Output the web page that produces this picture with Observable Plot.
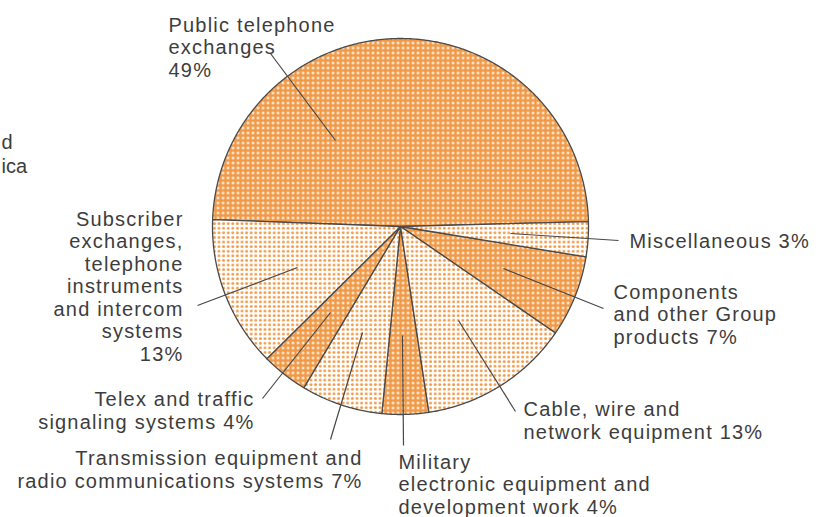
<!DOCTYPE html>
<html>
<head>
<meta charset="utf-8">
<script src="https://cdn.jsdelivr.net/npm/d3@7"></script>
<script src="https://cdn.jsdelivr.net/npm/@observablehq/plot@0.6"></script>
<style>
  html, body { margin: 0; padding: 0; background: #fff; }
  #chart svg { display: block; }
</style>
</head>
<body>
<svg width="0" height="0" style="position:absolute">
  <defs>
    <pattern id="dense" width="5" height="5" patternUnits="userSpaceOnUse">
      <rect width="5" height="5" fill="#f09a48"/>
      <circle cx="2.5" cy="2.5" r="1.25" fill="#ffffff"/>
    </pattern>
    <pattern id="light" width="4.6" height="4.6" patternUnits="userSpaceOnUse">
      <rect width="4.6" height="4.6" fill="#ffffff"/>
      <circle cx="2.3" cy="2.3" r="1.45" fill="#f09a48"/>
    </pattern>
  </defs>
</svg>
<div id="chart"></div>
<script>
// ---- data (clockwise from just above 3 o'clock) ----
const categories = [
  "Miscellaneous",
  "Components and other Group products",
  "Cable, wire and network equipment",
  "Military electronic equipment and development work",
  "Transmission equipment and radio communications systems",
  "Telex and traffic signaling systems",
  "Subscriber exchanges, telephone instruments and intercom systems",
  "Public telephone exchanges"
];
const shares = [3, 7, 13, 4, 7, 4, 13, 49];
const patterns = ["light", "dense", "light", "dense", "light", "dense", "light", "dense"];
const labelTexts = [
  "Miscellaneous 3%",
  "Components\nand other Group\nproducts 7%",
  "Cable, wire and\nnetwork equipment 13%",
  "Military\nelectronic equipment and\ndevelopment work 4%",
  "Transmission equipment and\nradio communications systems 7%",
  "Telex and traffic\nsignaling systems 4%",
  "Subscriber\nexchanges,\ntelephone\ninstruments\nand intercom\nsystems\n13%",
  "Public telephone\nexchanges\n49%"
];
// partial text visible at the left edge of the reference
const fragmentTexts = ["d", "ica"];

// ---- layout (pixels) ----
const W = 830, H = 517;
const cx = 400, cy = 226, R = 188;
const startDeg = 88.5; // d3 convention: clockwise from 12 o'clock
// label anchors: x, y = baseline of last line, anchor
const labelPos = [
  {x: 629, y: 247, a: "start"},
  {x: 613, y: 343, a: "start"},
  {x: 523, y: 438, a: "start"},
  {x: 398, y: 513, a: "start"},
  {x: 362, y: 487, a: "end"},
  {x: 254, y: 428, a: "end"},
  {x: 183, y: 360, a: "end"},
  {x: 168, y: 76, a: "start"}
];
// leader lines: from (x1,y1) inside slice to (x2,y2)
const leaders = [
  [510, 233, 618, 240],
  [503, 268, 603, 308],
  [458, 320, 515, 411],
  [402, 335, 403, 445],
  [362, 332, 330, 439],
  [330, 312, 262, 398],
  [297, 267, 197, 305],
  [335, 140, 270, 53]
];
const fragmentPos = [{x: 1, y: 148}, {x: 1, y: 172}];

// ---- geometry from data via d3.pie ----
const rad = Math.PI / 180;
const arcs = d3.pie().sort(null)
  .startAngle(startDeg * rad).endAngle(startDeg * rad + 2 * Math.PI)(shares);
const polyPts = [];
arcs.forEach((a, i) => {
  const name = categories[i];
  polyPts.push({name, pattern: patterns[i], x: cx, y: cy});
  const steps = Math.max(4, Math.ceil((a.endAngle - a.startAngle) / (0.4 * rad)));
  for (let k = 0; k <= steps; k++) {
    const t = a.startAngle + (a.endAngle - a.startAngle) * k / steps;
    polyPts.push({name, pattern: patterns[i], x: cx + R * Math.sin(t), y: cy - R * Math.cos(t)});
  }
});
const labels = labelTexts.map((t, i) => ({text: t, ...labelPos[i]}));
const leaderData = leaders.map(([x1, y1, x2, y2], i) => ({name: categories[i], x1, y1, x2, y2}));
const fragments = fragmentTexts.map((t, i) => ({text: t, ...fragmentPos[i]}));

const font = {fontSize: 20, fill: "#3d3d3d", lineHeight: 22.5 / 20, lineAnchor: "bottom"};

const chart = Plot.plot({
  width: W, height: H,
  margin: 0,
  x: {domain: [0, W], range: [0, W], axis: null},
  y: {domain: [0, H], range: [0, H], axis: null},
  style: {fontFamily: "'Liberation Sans', Arial, Helvetica, sans-serif", background: "#fff"},
  marks: [
    Plot.line(polyPts.filter(d => d.pattern === "dense"), {x: "x", y: "y", z: "name", curve: "linear-closed", fill: "url(#dense)", stroke: "#4a4a4a", strokeWidth: 1.3}),
    Plot.line(polyPts.filter(d => d.pattern === "light"), {x: "x", y: "y", z: "name", curve: "linear-closed", fill: "url(#light)", stroke: "#4a4a4a", strokeWidth: 1.3}),
    Plot.link(leaderData, {x1: "x1", y1: "y1", x2: "x2", y2: "y2", stroke: "#474747", strokeWidth: 1.2}),
    Plot.text(labels.filter(d => d.a === "start"), {x: "x", y: "y", text: "text", textAnchor: "start", ...font}),
    Plot.text(labels.filter(d => d.a === "end"), {x: "x", y: "y", text: "text", textAnchor: "end", ...font}),
    Plot.text(fragments, {x: "x", y: "y", text: "text", textAnchor: "start", ...font, className: "frag"})
  ]
});
d3.select(chart).selectAll("text").style("letter-spacing", "1.2px");
d3.select(chart).selectAll(".frag text").style("letter-spacing", "0px");
document.getElementById("chart").append(chart);
</script>
</body>
</html>
